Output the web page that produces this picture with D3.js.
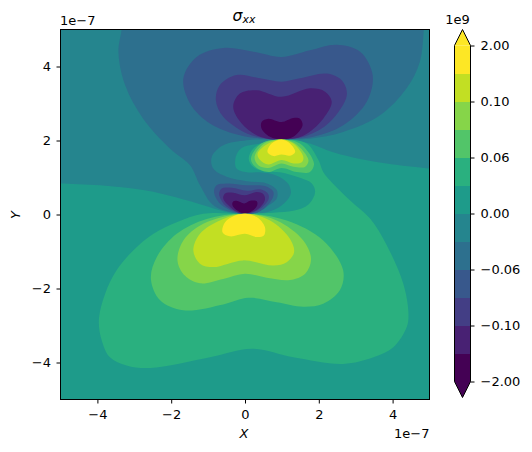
<!DOCTYPE html>
<html><head><meta charset="utf-8">
<style>html,body{margin:0;padding:0;background:#fff}svg{display:block}text{font-family:"DejaVu Sans",sans-serif;fill:#000}</style>
<script src="https://cdnjs.cloudflare.com/ajax/libs/d3/7.8.5/d3.min.js"></script></head>
<body><svg id="c" width="532" height="452"></svg>
<script>
// Contour levels (x 1e9) and band colours
const levels=[-2,-0.12,-0.10,-0.08,-0.06,-0.03,0,0.03,0.06,0.08,0.10,0.12,2];
const bandColors=["#440154","#482173","#433e85","#38588c","#2d708e","#25858e","#1e9b8a","#2ab07f","#52c569","#86d549","#c2df23","#fde725"];
const xTicks=[-4,-2,0,2,4], yTicks=[-4,-2,0,2,4];
// Contour outlines, in units of 1e-7
const negOuter=[[-5.3,5.3],[5.3,5.3],[5.3,1.2],[5.01,1.24],[4.02,1.35],[3.12,1.5],[2.39,1.68],[1.76,1.92],[1.31,2.01],[0.99,2.03],[0.41,1.92],[-0.09,1.8],[-0.25,1.56],[-0.23,1.24],[0.05,1.14],[0.41,1.14],[0.86,1.05],[1.17,0.83],[1.24,0.56],[0.99,0.24],[0.59,0.06],[0,0.02],[-0.5,0.07],[-1.13,0.25],[-1.85,0.46],[-2.76,0.66],[-3.93,0.79],[-5.01,0.84],[-5.3,0.86]];
const posOuter=[[0.99,2.03],[1.67,1.92],[1.99,1.47],[2.12,1.15],[2.38,0.84],[2.85,0.38],[3.39,-0.11],[3.82,-0.79],[4.29,-1.87],[4.43,-2.68],[4.38,-3.05],[4.02,-3.59],[3.48,-3.86],[2.66,-4.04],[1.31,-3.86],[0.18,-3.63],[-0.95,-3.86],[-2.57,-4.15],[-3.21,-4.08],[-3.66,-3.86],[-3.88,-3.41],[-3.96,-2.86],[-3.79,-2.14],[-3.48,-1.51],[-3.03,-0.97],[-2.48,-0.52],[-1.85,-0.21],[-1.13,0.02],[0,0.02],[0.77,0.05],[1.31,0.1],[1.72,0.27],[1.9,0.61],[1.81,0.84],[1.49,0.99],[0.95,1.14],[0.5,1.17],[0.22,1.29],[0.1,1.51],[0.22,1.78],[0.59,1.98]];
const neg2=[[-3.34,5.3],[4.88,5.3],[4.85,5.03],[4.74,4.13],[4.38,3.41],[3.66,2.68],[2.66,2.23],[1.76,2.05],[0.99,2.03],[0.05,2.01],[-0.59,1.87],[-0.9,1.56],[-0.86,1.24],[-0.5,1.02],[0.05,0.9],[0.59,0.84],[0.86,0.66],[0.86,0.43],[0.59,0.21],[0.32,0.05],[0,0.02],[-0.32,0.05],[-0.86,0.25],[-1.22,0.79],[-1.49,1.33],[-2.03,1.78],[-2.76,2.59],[-3.25,3.5],[-3.43,4.4],[-3.34,5.03]];
const neg3Top=[[0.99,2.03],[1.85,2.1],[2.66,2.41],[3.3,3.05],[3.46,3.77],[3.12,4.4],[2.48,4.59],[1.76,4.44],[0.99,4.26],[0.23,4.4],[-0.59,4.5],[-1.31,4.26],[-1.67,3.68],[-1.49,3],[-0.95,2.46],[-0.14,2.14],[0.59,2.04]];
const neg4Top=[[0.99,2.03],[1.67,2.13],[2.3,2.5],[2.76,3.23],[2.62,3.63],[2.21,3.81],[1.49,3.68],[0.99,3.59],[0.41,3.68],[-0.23,3.77],[-0.68,3.5],[-0.79,3.09],[-0.59,2.64],[0.05,2.19],[0.59,2.05]];
const neg5Top=[[0.99,2.03],[1.58,2.13],[2.12,2.59],[2.35,3.05],[2.17,3.32],[1.76,3.41],[0.99,3.18],[0.32,3.36],[-0.14,3.27],[-0.32,2.91],[-0.09,2.46],[0.41,2.1]];
const neg6Top=[[0.99,2.03],[1.31,2.1],[1.56,2.41],[1.49,2.59],[1.31,2.61],[0.99,2.5],[0.63,2.59],[0.45,2.5],[0.45,2.32],[0.68,2.1]];
const neg3Low=[[0,0.02],[0.41,0.09],[0.72,0.39],[0.77,0.61],[0.54,0.77],[0.05,0.79],[-0.5,0.84],[-0.77,0.79],[-0.84,0.61],[-0.68,0.3],[-0.23,0.05]];
const neg4Low=[[0,0.02],[0.36,0.12],[0.63,0.39],[0.63,0.55],[0.41,0.68],[0.05,0.64],[-0.36,0.72],[-0.63,0.7],[-0.7,0.55],[-0.54,0.25],[-0.18,0.05]];
const neg5Low=[[0,0.02],[0.32,0.12],[0.54,0.39],[0.5,0.55],[0.32,0.61],[0,0.52],[-0.32,0.59],[-0.54,0.57],[-0.59,0.43],[-0.41,0.21],[-0.18,0.05]];
const neg6Low=[[0,0.02],[0.23,0.12],[0.33,0.25],[0.32,0.36],[0.14,0.37],[-0.02,0.3],[-0.23,0.37],[-0.33,0.34],[-0.34,0.25],[-0.23,0.12]];
const pos2Low=[[0,0.02],[1.13,-0.16],[2.12,-0.7],[2.66,-1.51],[2.57,-2.05],[2.12,-2.41],[1.58,-2.49],[0.86,-2.37],[0.09,-2.25],[-0.59,-2.43],[-1.67,-2.59],[-2.3,-2.32],[-2.55,-1.74],[-2.39,-1.15],[-1.85,-0.52],[-1.04,-0.12]];
const pos3Low=[[0,0.02],[0.86,-0.16],[1.58,-0.7],[1.79,-1.2],[1.63,-1.6],[1.22,-1.77],[0.59,-1.71],[0,-1.6],[-0.59,-1.74],[-1.22,-1.86],[-1.63,-1.65],[-1.83,-1.24],[-1.67,-0.7],[-1.13,-0.25]];
const pos4Low=[[0,0.02],[0.68,-0.16],[1.22,-0.66],[1.33,-1.02],[1.13,-1.29],[0.77,-1.38],[-0.05,-1.24],[-0.86,-1.42],[-1.22,-1.33],[-1.4,-0.97],[-1.22,-0.52],[-0.68,-0.16]];
const pos5Low=[[0,0.02],[0.32,-0.07],[0.54,-0.34],[0.51,-0.57],[0.32,-0.61],[0,-0.52],[-0.41,-0.59],[-0.61,-0.48],[-0.54,-0.21],[-0.27,-0.03]];
const pos2Top=[[0.99,2.03],[1.49,1.92],[1.87,1.38],[1.76,1.15],[1.4,1.15],[0.99,1.26],[0.63,1.15],[0.28,1.29],[0.16,1.51],[0.44,1.92]];
const pos3Top=[[0.99,2.03],[1.36,1.92],[1.72,1.47],[1.63,1.29],[1.31,1.29],[0.99,1.38],[0.63,1.26],[0.36,1.33],[0.26,1.56],[0.52,1.92]];
const pos4Top=[[0.99,2.03],[1.31,1.92],[1.58,1.56],[1.54,1.41],[1.31,1.38],[0.99,1.47],[0.63,1.35],[0.41,1.47],[0.34,1.65],[0.63,1.92]];
const pos5Top=[[0.99,2.03],[1.22,1.92],[1.36,1.69],[1.22,1.59],[0.99,1.62],[0.77,1.58],[0.61,1.69],[0.72,1.92]];
// band index -> outline, painted in order over the base band
const layers=[[5,negOuter],[7,posOuter],[4,neg2],[3,neg3Top],[3,neg3Low],[2,neg4Top],[2,neg4Low],[1,neg5Top],[1,neg5Low],[0,neg6Top],[0,neg6Low],
 [8,pos2Low],[9,pos3Low],[10,pos4Low],[11,pos5Low],[8,pos2Top],[9,pos3Top],[10,pos4Top],[11,pos5Top]];
const baseBand=6;

const svg=d3.select("#c");
const x=d3.scaleLinear().domain([-5,5]).range([60.5,429.5]);
const y=d3.scaleLinear().domain([-5,5]).range([399.5,29.5]);
const fs=13;
svg.append("clipPath").attr("id","clip").append("rect").attr("x",60.5).attr("y",29.5).attr("width",369).attr("height",370);
const plot=svg.append("g").attr("clip-path","url(#clip)");
plot.append("rect").attr("x",60.5).attr("y",29.5).attr("width",369).attr("height",370).attr("fill",bandColors[baseBand]);
const line=d3.line().x(d=>x(d[0])).y(d=>y(d[1])).curve(d3.curveCatmullRomClosed.alpha(0.5));
plot.selectAll("path").data(layers).join("path").attr("d",d=>line(d[1])).attr("fill",d=>bandColors[d[0]]);

const fmt=d=>String(d).replace("-","\u2212");
const style=g=>{g.selectAll("text").attr("font-size",fs).attr("font-family","DejaVu Sans").attr("fill","#000");g.selectAll("line").attr("stroke","#000").attr("stroke-width",1);g.select(".domain").remove();};
svg.append("g").attr("transform","translate(0,399.5)").call(d3.axisBottom(x).tickValues(xTicks).tickFormat(fmt).tickSize(4).tickPadding(6.5)).call(style);
svg.append("g").attr("transform","translate(60.5,0)").call(d3.axisLeft(y).tickValues(yTicks).tickFormat(fmt).tickSize(4).tickPadding(5.5)).call(style);
svg.append("rect").attr("x",60.5).attr("y",29.5).attr("width",369).attr("height",370).attr("fill","none").attr("stroke","#000").attr("stroke-width",1);

const t=svg.append("text").attr("x",244).attr("y",21).attr("text-anchor","middle").attr("font-size",15.6);
t.append("tspan").attr("font-style","italic").text("\u03c3");
t.append("tspan").attr("font-style","italic").attr("font-size",10.9).attr("dy",2).text("xx");
svg.append("text").attr("x",244).attr("y",438).attr("text-anchor","middle").attr("font-size",fs).attr("font-style","italic").text("X");
svg.append("text").attr("transform","translate(20,215) rotate(-90)").attr("text-anchor","middle").attr("font-size",fs).attr("font-style","italic").text("Y");
svg.append("text").attr("x",60).attr("y",25).attr("font-size",fs).text("1e\u22127");
svg.append("text").attr("x",429.5).attr("y",438).attr("text-anchor","end").attr("font-size",fs).text("1e\u22127");

// colourbar
const cbL=454.5,cbR=470.5,cbTop=45.5,cbBot=381.5,tri=16;
const cy=d3.scalePoint().domain(levels.map((d,i)=>i)).range([cbBot,cbTop]);
const cb=svg.append("g");
cb.selectAll("rect").data(bandColors).join("rect").attr("x",cbL).attr("width",cbR-cbL)
 .attr("y",(d,i)=>cy(i+1)).attr("height",(d,i)=>cy(i)-cy(i+1)+0.5).attr("fill",d=>d);
cb.append("path").attr("d",`M${cbL},${cbTop}L${(cbL+cbR)/2},${cbTop-tri}L${cbR},${cbTop}Z`).attr("fill",bandColors[11]);
cb.append("path").attr("d",`M${cbL},${cbBot}L${(cbL+cbR)/2},${cbBot+tri}L${cbR},${cbBot}Z`).attr("fill",bandColors[0]);
cb.append("path").attr("d",`M${cbL},${cbTop}L${(cbL+cbR)/2},${cbTop-tri}L${cbR},${cbTop}L${cbR},${cbBot}L${(cbL+cbR)/2},${cbBot+tri}L${cbL},${cbBot}Z`).attr("fill","none").attr("stroke","#000").attr("stroke-width",1);
const tickIdx=levels.map((d,i)=>i).filter(i=>i%2===0);
svg.append("g").attr("transform",`translate(${cbR},0)`).call(d3.axisRight(cy).tickValues(tickIdx).tickFormat(i=>levels[i].toFixed(2).replace("-","\u2212")).tickSize(4).tickPadding(6)).call(style);
svg.append("text").attr("x",457.5).attr("y",24).attr("text-anchor","middle").attr("font-size",fs).text("1e9");
</script></body></html>
